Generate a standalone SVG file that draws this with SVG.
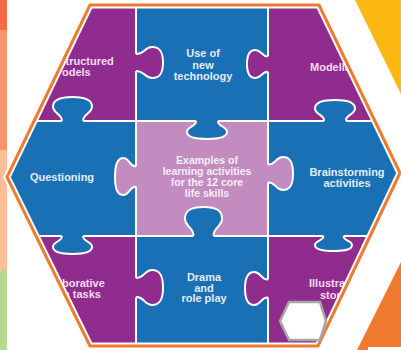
<svg xmlns="http://www.w3.org/2000/svg" xmlns:xlink="http://www.w3.org/1999/xlink" width="401" height="350" viewBox="0 0 401 350">
<style>
.pu{fill:#912c8f}
.bl{fill:#1a70b5}
.li{fill:#c28cc0}
.t{font-family:"Liberation Sans",Arial,sans-serif;font-weight:bold;font-size:11px}
.tp{fill:#f3dff1}
.tb{fill:#e1edf8}
.tc{fill:#f8eef8;font-size:10.5px}
.m{text-anchor:middle}
.seam{fill:none;stroke:#ffffff;stroke-width:2}
</style>
<defs>
<clipPath id="hex"><polygon points="90,5 319,5 400,173 318,346 90,346 7,177"/></clipPath>
<path id="kf" d="M-0.15,-0.55 L0,-0.55 C0.3,-0.5 0.3,-1 0.6,-1 C0.88,-1 1,-0.7 1,0 C1,0.7 0.88,1 0.6,1 C0.3,1 0.3,0.5 0,0.55 L-0.15,0.55 Z"/>
<path id="ks" d="M0,-0.55 C0.3,-0.5 0.3,-1 0.6,-1 C0.88,-1 1,-0.7 1,0 C1,0.7 0.88,1 0.6,1 C0.3,1 0.3,0.5 0,0.55" fill="none" stroke="#ffffff" stroke-width="2" vector-effect="non-scaling-stroke"/>
</defs>
<rect width="401" height="350" fill="#ffffff"/>
<g id="side-strip">
<rect x="0" y="0" width="7" height="30" fill="#f26c3f"/>
<rect x="0" y="30" width="7" height="120" fill="#f5946b"/>
<rect x="0" y="150" width="7" height="120" fill="#fdbf98"/>
<rect x="0" y="270" width="7" height="80" fill="#b8d78f"/>
</g>
<polygon id="yellow-corner" points="355,0 401,0 401,94" fill="#fbb812"/>
<polygon id="orange-corner" points="401,262 401,350 357,350" fill="#ee7b2f"/>
<rect x="368" y="347" width="33" height="3" fill="#ffffff"/>
<g clip-path="url(#hex)">
<g id="structured-models"><rect x="0" y="0" width="136" height="121" class="pu"/>
<text class="t tp" x="65.5" y="65">tructured</text><text class="t tp" x="62" y="76">odels</text></g>
<g id="new-technology"><rect x="136" y="0" width="132" height="121" class="bl"/>
<text class="t tb m" x="203" y="57">Use of</text><text class="t tb m" x="203" y="68.5">new</text><text class="t tb m" x="203" y="80">technology</text></g>
<g id="modelling"><rect x="268" y="0" width="133" height="121" class="pu"/>
<text class="t tp" x="310" y="71">Modelli</text></g>
<g id="questioning"><rect x="0" y="121" width="136" height="115" class="bl"/>
<text class="t tb m" x="62" y="181">Questioning</text></g>
<g id="center"><rect x="136" y="121" width="132" height="115" class="li"/>
<text class="t tc m" x="207" y="164">Examples of</text><text class="t tc m" x="207" y="175">learning activities</text><text class="t tc m" x="207" y="186">for the 12 core</text><text class="t tc m" x="207" y="197">life skills</text></g>
<g id="brainstorming"><rect x="268" y="121" width="133" height="115" class="bl"/>
<text class="t tb m" x="347" y="176">Brainstorming</text><text class="t tb m" x="347" y="186.5">activities</text></g>
<g id="collaborative"><rect x="0" y="236" width="136" height="114" class="pu"/>
<text class="t tp" x="62" y="287">borative</text><text class="t tp" x="63" y="297.5">n tasks</text></g>
<g id="drama"><rect x="136" y="236" width="132" height="114" class="bl"/>
<text class="t tb m" x="204" y="281">Drama</text><text class="t tb m" x="204" y="291.5">and</text><text class="t tb m" x="204" y="302">role play</text></g>
<g id="illustrated-stories"><rect x="268" y="236" width="133" height="114" class="pu"/>
<text class="t tp" x="309" y="287">Illustrat</text><text class="t tp" x="320" y="299">stori</text></g>
<g id="seams">
<path class="seam" d="M136,0V350M268,0V350M0,121H401M0,236H401"/>
<use xlink:href="#kf" class="pu" transform="matrix(27,0,0,15.5,136,62.5)"/><use xlink:href="#ks" transform="matrix(27,0,0,15.5,136,62.5)"/>
<use xlink:href="#kf" class="pu" transform="matrix(-21,0,0,14,268,64)"/><use xlink:href="#ks" transform="matrix(-21,0,0,14,268,64)"/>
<use xlink:href="#kf" class="li" transform="matrix(-21,0,0,18.5,136,176.5)"/><use xlink:href="#ks" transform="matrix(-21,0,0,18.5,136,176.5)"/>
<use xlink:href="#kf" class="li" transform="matrix(25,0,0,16.5,268,173.5)"/><use xlink:href="#ks" transform="matrix(25,0,0,16.5,268,173.5)"/>
<use xlink:href="#kf" class="pu" transform="matrix(27,0,0,17.5,136,287.5)"/><use xlink:href="#ks" transform="matrix(27,0,0,17.5,136,287.5)"/>
<use xlink:href="#kf" class="pu" transform="matrix(-23,0,0,16.5,268,288.5)"/><use xlink:href="#ks" transform="matrix(-23,0,0,16.5,268,288.5)"/>
<use xlink:href="#kf" class="bl" transform="matrix(0,-24,19.5,0,72.5,121)"/><use xlink:href="#ks" transform="matrix(0,-24,19.5,0,72.5,121)"/>
<use xlink:href="#kf" class="bl" transform="matrix(0,18,20,0,207,121)"/><use xlink:href="#ks" transform="matrix(0,18,20,0,207,121)"/>
<use xlink:href="#kf" class="bl" transform="matrix(0,-21,20,0,335,121)"/><use xlink:href="#ks" transform="matrix(0,-21,20,0,335,121)"/>
<use xlink:href="#kf" class="bl" transform="matrix(0,18,19.5,0,72.5,236)"/><use xlink:href="#ks" transform="matrix(0,18,19.5,0,72.5,236)"/>
<use xlink:href="#kf" class="bl" transform="matrix(0,-29,18.5,0,203.5,236)"/><use xlink:href="#ks" transform="matrix(0,-29,18.5,0,203.5,236)"/>
<use xlink:href="#kf" class="bl" transform="matrix(0,15,18.5,0,333.5,236)"/><use xlink:href="#ks" transform="matrix(0,15,18.5,0,333.5,236)"/>
</g>
</g>
<g id="hex-border" fill="none">
<polygon points="90,5 319,5 400,173 318,346 90,346 7,177" stroke="#ffffff" stroke-width="7"/>
<polygon points="90,5 319,5 400,173 318,346 90,346 7,177" stroke="#ee7b2f" stroke-width="3"/>
</g>
<polygon id="small-hex" points="280,321 289,302 320,302 326,321 320,340 289,340" fill="#ffffff" stroke="#a6a6a6" stroke-width="2.5"/>
</svg>
